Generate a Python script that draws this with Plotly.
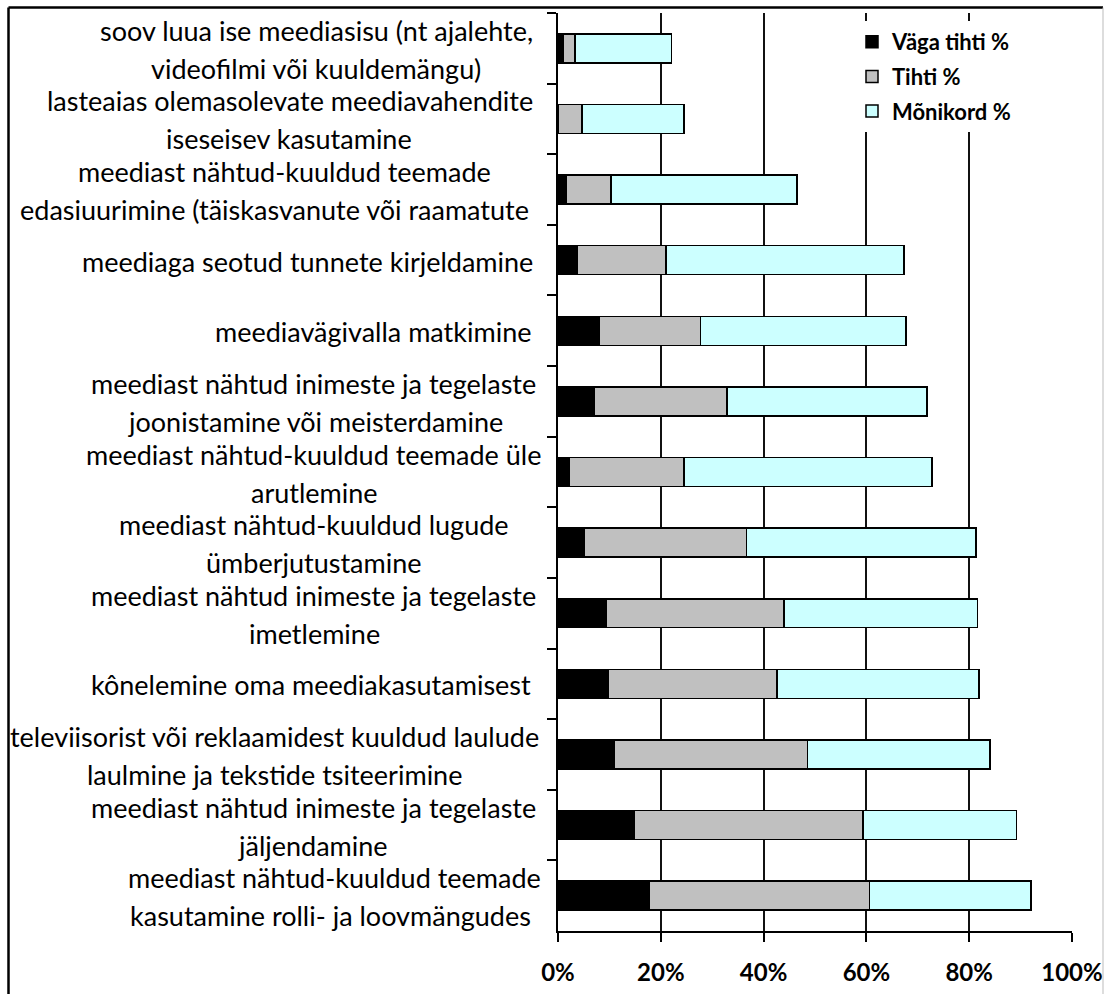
import plotly.graph_objects as go

# ---------------- data ----------------
label_lines = [
    ["soov luua ise meediasisu (nt ajalehte,", "videofilmi või kuuldemängu)"],
    ["lasteaias olemasolevate meediavahendite", "iseseisev kasutamine"],
    ["meediast nähtud-kuuldud teemade", "edasiuurimine (täiskasvanute või raamatute"],
    ["meediaga seotud tunnete kirjeldamine"],
    ["meediavägivalla matkimine"],
    ["meediast nähtud inimeste ja tegelaste", "joonistamine või meisterdamine"],
    ["meediast nähtud-kuuldud teemade üle", "arutlemine"],
    ["meediast nähtud-kuuldud lugude", "ümberjutustamine"],
    ["meediast nähtud inimeste ja tegelaste", "imetlemine"],
    ["kônelemine oma meediakasutamisest"],
    ["televiisorist või reklaamidest kuuldud laulude", "laulmine ja tekstide tsiteerimine"],
    ["meediast nähtud inimeste ja tegelaste", "jäljendamine"],
    ["meediast nähtud-kuuldud teemade", "kasutamine rolli- ja loovmängudes"],
]
categories = [" ".join(l) + f" #{i+1}" for i, l in enumerate(label_lines)]

vaga_tihti = [1.1, 0.0, 1.7, 3.8, 8.0, 7.0, 2.1, 5.2, 9.3, 9.7, 11.0, 14.9, 17.7]
tihti = [2.2, 4.7, 8.6, 17.2, 19.7, 25.9, 22.4, 31.5, 34.7, 32.9, 37.5, 44.4, 42.9]
monikord = [18.8, 19.8, 36.2, 46.3, 40.0, 38.9, 48.3, 44.6, 37.6, 39.3, 35.5, 29.9, 31.4]

series_names = ["Väga tihti %", "Tihti %", "Mõnikord %"]
x_tickvals = [0, 20, 40, 60, 80, 100]
x_ticktext = ["0%", "20%", "40%", "60%", "80%", "100%"]

# ---------------- layout / style ----------------
W, H = 1106, 994
ML, MR, MT, MB = 558, 34, 13, 63
PW = W - ML - MR
PH = H - MT - MB
colors = ["#000000", "#C0C0C0", "#CCFFFF"]
# horizontal centre (px) of each label line, as placed in the original
label_centers = [
    [316, 316], [290, 289], [284, 274], [307], [373],
    [313, 315], [313, 314], [314, 314], [313, 314], [311],
    [274, 274], [313, 313], [334, 330],
]
FONT = "Lato"

def px_x(px):
    return (px - ML) / PW

def px_y(py):
    return (H - MB - py) / PH

fig = go.Figure()
for name, vals, col in zip(series_names, [vaga_tihti, tihti, monikord], colors):
    fig.add_trace(go.Bar(
        y=categories, x=vals, orientation="h", name=name,
        legendgroup=name,
        marker=dict(color=col, line=dict(color="#000000", width=1.5)),
    ))

annotations = []
for i, (lines, centers) in enumerate(zip(label_lines, label_centers)):
    if len(lines) == 1:
        shifts = [-1]
    else:
        shifts = [18, -20]
    for line, c, s in zip(lines, centers, shifts):
        annotations.append(dict(
            text=line, xref="paper", x=px_x(c), xanchor="center",
            yref="y", y=i, yanchor="middle", yshift=s,
            showarrow=False, font=dict(family=FONT, size=27, color="#000000"),
        ))

shapes = [
    dict(type="line", xref="paper", yref="paper", x0=px_x(8.5), x1=px_x(8.5),
         y0=px_y(7.5), y1=px_y(1010), line=dict(color="#000000", width=2.5)),
    dict(type="line", xref="paper", yref="paper", x0=px_x(8.5), x1=px_x(1103),
         y0=px_y(7.5), y1=px_y(7.5), line=dict(color="#000000", width=2.5)),
    dict(type="line", xref="paper", yref="paper", x0=px_x(1103), x1=px_x(1103),
         y0=px_y(7.5), y1=px_y(1010), line=dict(color="#BBBBBB", width=1)),
]

fig.update_layout(
    width=W, height=H,
    margin=dict(l=ML, r=MR, t=MT, b=MB, autoexpand=False),
    barmode="stack", bargap=0.59,
    plot_bgcolor="white", paper_bgcolor="white",
    font=dict(family=FONT, color="#000000"),
    annotations=annotations, shapes=shapes,
    legend=dict(
        x=px_x(852), y=px_y(21), xanchor="left", yanchor="top",
        bgcolor="white", borderwidth=0,
        font=dict(family=FONT, size=22, color="#000000", weight="bold"),
        traceorder="grouped", tracegroupgap=3,
    ),
    xaxis=dict(
        range=[0, 100], tickvals=x_tickvals, ticktext=x_ticktext,
        showgrid=True, gridcolor="#111111", gridwidth=2,
        showline=True, linecolor="#000000", linewidth=2,
        ticks="outside", ticklen=9, tickwidth=2, tickcolor="#000000",
        tickfont=dict(family=FONT, size=24, color="#000000", weight="bold"),
        ticklabelstandoff=10, zeroline=False, fixedrange=True,
    ),
    yaxis=dict(
        type="category", categoryorder="array", categoryarray=categories,
        range=[12.5, -0.5], showticklabels=False,
        ticks="outside", tickson="boundaries", ticklen=9, tickwidth=2,
        tickcolor="#000000", showline=True, linecolor="#000000", linewidth=2,
        showgrid=False, zeroline=False, fixedrange=True,
    ),
)

fig.write_html("out.html")
